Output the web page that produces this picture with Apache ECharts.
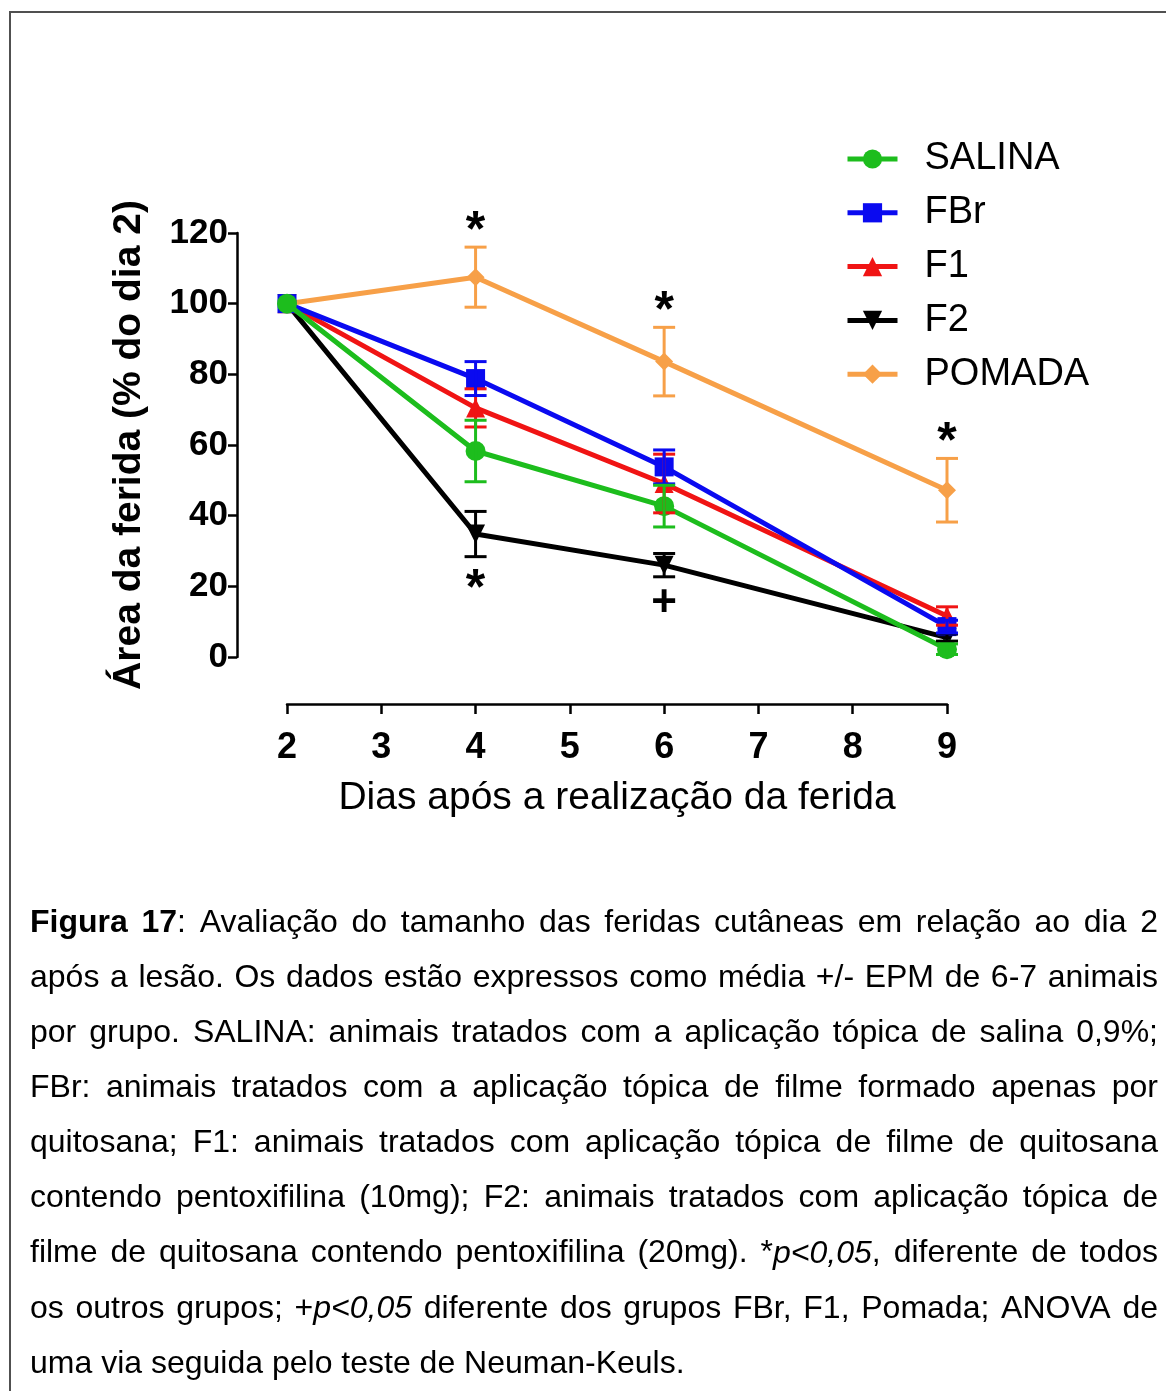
<!DOCTYPE html>
<html>
<head>
<meta charset="utf-8">
<script src="https://cdn.jsdelivr.net/npm/echarts@6.0.0/dist/echarts.min.js"></script>
<style>
  html, body { margin: 0; padding: 0; background: #ffffff; }
  #chart { width: 1166px; height: 1391px; }
</style>
</head>
<body>
<div id="chart"></div>
<script>
// Days after wounding (x positions of the measurements)
const days = [2, 4, 6, 9];
const xTickLabels = [2, 3, 4, 5, 6, 7, 8, 9];
const yTickLabels = [0, 20, 40, 60, 80, 100, 120];

// Wound area, % of day 2 (mean and SEM per group)
const salinaMean = [100, 58.3, 42.7, 2.2];
const salinaErr  = [0, 8.7, 5.9, 1.5];
const fbrMean    = [100, 78.8, 53.8, 8.6];
const fbrErr     = [0, 4.8, 4.8, 1.8];
const f1Mean     = [100, 70.5, 49.1, 11.6];
const f1Err      = [0, 5.4, 8.3, 2.6];
const f2Mean     = [100, 34.8, 26.0, 5.5];
const f2Err      = [0, 6.4, 3.3, 1.0];
const pomadaMean = [100, 107.5, 83.6, 47.2];
const pomadaErr  = [0, 8.5, 9.7, 9.0];

// Significance marks: group, day, side of the error bar (1 above, -1 below), symbol
const sigGroup  = ['POMADA', 'POMADA', 'POMADA', 'F2', 'F2'];
const sigDay    = [4, 6, 9, 4, 6];
const sigSide   = [1, 1, 1, -1, -1];
const sigSymbol = ['*', '*', '*', '*', '+'];

const legendOrder = ['SALINA', 'FBr', 'F1', 'F2', 'POMADA'];

// Drawing order: bottom to top
const groups = [
  { name: 'POMADA', mean: pomadaMean, err: pomadaErr, color: '#f7a048', symbol: 'diamond',  size: 18, rotate: 0 },
  { name: 'F2',     mean: f2Mean,     err: f2Err,     color: '#000000', symbol: 'triangle', size: 19, rotate: 180 },
  { name: 'F1',     mean: f1Mean,     err: f1Err,     color: '#f01414', symbol: 'triangle', size: 19, rotate: 0 },
  { name: 'FBr',    mean: fbrMean,    err: fbrErr,    color: '#0a0af0', symbol: 'rect',     size: 19, rotate: 0 },
  { name: 'SALINA', mean: salinaMean, err: salinaErr, color: '#1dbd1d', symbol: 'circle',   size: 20, rotate: 0 }
];

const FONT = '"Liberation Sans", Arial, sans-serif';

const series = [];
groups.forEach(function (g, gi) {
  series.push({
    name: g.name,
    type: 'line',
    data: days.map(function (d, i) { return [d, g.mean[i]]; }),
    symbol: g.symbol,
    symbolSize: g.size,
    symbolRotate: g.rotate,
    showAllSymbol: true,
    lineStyle: { color: g.color, width: 5 },
    itemStyle: { color: g.color, borderWidth: 0 },
    z: 2 + gi,
    animation: false,
    emphasis: { disabled: true }
  });
});

// Error bars (mean +/- SEM) with caps, drawn above all lines
groups.forEach(function (g, gi) {
  series.push({
    name: g.name + ' EPM',
    type: 'custom',
    data: days.map(function (d, i) { return [d, g.mean[i], g.err[i]]; }),
    renderItem: function (params, api) {
      const x = api.value(0), m = api.value(1), e = api.value(2);
      if (!e) return null;
      const top = api.coord([x, m + e]);
      const bot = api.coord([x, m - e]);
      const hw = 11;
      const st = { stroke: g.color, lineWidth: 3, fill: 'none' };
      return {
        type: 'group',
        children: [
          { type: 'line', shape: { x1: top[0], y1: top[1], x2: bot[0], y2: bot[1] }, style: st },
          { type: 'line', shape: { x1: top[0] - hw, y1: top[1], x2: top[0] + hw, y2: top[1] }, style: st },
          { type: 'line', shape: { x1: bot[0] - hw, y1: bot[1], x2: bot[0] + hw, y2: bot[1] }, style: st }
        ]
      };
    },
    z: 10 + gi,
    silent: true,
    animation: false
  });
});

// Significance symbols placed just beyond the error bar caps
series.push({
  name: 'sig',
  type: 'custom',
  data: sigDay.map(function (d, i) {
    const g = groups.find(function (gg) { return gg.name === sigGroup[i]; });
    const k = days.indexOf(d);
    return [d, g.mean[k] + sigSide[i] * g.err[k], sigSide[i], i];
  }),
  renderItem: function (params, api) {
    const p = api.coord([api.value(0), api.value(1)]);
    const side = api.value(2);
    const sym = sigSymbol[api.value(3)];
    let y, size;
    if (sym === '*') {
      size = 50;
      y = side > 0 ? p[1] - 15 : p[1] + 34;
    } else {
      size = 44;
      y = p[1] + 27;
    }
    return {
      type: 'text',
      style: {
        text: sym, x: p[0], y: y,
        align: 'center', verticalAlign: 'middle',
        fontSize: size, fontWeight: 'bold', fontFamily: FONT, fill: '#000'
      }
    };
  },
  z: 30,
  silent: true,
  animation: false
});

// Caption below the chart, justified like the printed figure
const captionLines = [
  [[ 'Figura 17', 'b' ], [ ': Avaliação do tamanho das feridas cutâneas em relação ao dia 2', '' ]],
  [[ 'após a lesão. Os dados estão expressos como média +/- EPM de 6-7 animais', '' ]],
  [[ 'por grupo. SALINA: animais tratados com a aplicação tópica de salina 0,9%;', '' ]],
  [[ 'FBr: animais tratados com a aplicação tópica de filme formado apenas por', '' ]],
  [[ 'quitosana; F1: animais tratados com aplicação tópica de filme de quitosana', '' ]],
  [[ 'contendo pentoxifilina (10mg); F2: animais tratados com aplicação tópica de', '' ]],
  [[ 'filme de quitosana contendo pentoxifilina (20mg). *', '' ], [ 'p<0,05', 'i' ], [ ', diferente de todos', '' ]],
  [[ 'os outros grupos; +', '' ], [ 'p<0,05', 'i' ], [ ' diferente dos grupos FBr, F1, Pomada; ANOVA de', '' ]],
  [[ 'uma via seguida pelo teste de Neuman-Keuls.', '' ]]
];

function buildCaption() {
  const size = 32;
  const left = 30, right = 1158, y0 = 923, lh = 55.1;
  const ctx = document.createElement('canvas').getContext('2d');
  function fontOf(s) {
    return (s.indexOf('i') >= 0 ? 'italic ' : '') + (s.indexOf('b') >= 0 ? 'bold ' : '') + size + 'px ' + FONT;
  }
  function measure(t, s) { ctx.font = fontOf(s); return ctx.measureText(t).width; }
  const els = [];
  captionLines.forEach(function (line, li) {
    // split into words, each word a list of styled pieces
    const words = [];
    let cur = [];
    line.forEach(function (seg) {
      const parts = seg[0].split(' ');
      parts.forEach(function (p, pi) {
        if (pi > 0) { if (cur.length) words.push(cur); cur = []; }
        if (p.length) cur.push([p, seg[1]]);
      });
    });
    if (cur.length) words.push(cur);
    const widths = words.map(function (w) {
      return w.reduce(function (a, pc) { return a + measure(pc[0], pc[1]); }, 0);
    });
    const total = widths.reduce(function (a, b) { return a + b; }, 0);
    const last = li === captionLines.length - 1;
    const gap = last ? measure(' ', '') : (right - left - total) / (words.length - 1);
    let x = left;
    const y = y0 + li * lh;
    words.forEach(function (w, wi) {
      let xx = x;
      w.forEach(function (pc) {
        els.push({
          type: 'text', silent: true,
          style: {
            text: pc[0], x: xx, y: y, align: 'left', verticalAlign: 'middle',
            fontSize: size, fontFamily: FONT,
            fontWeight: pc[1].indexOf('b') >= 0 ? 'bold' : 'normal',
            fontStyle: pc[1].indexOf('i') >= 0 ? 'italic' : 'normal',
            fill: '#000'
          }
        });
        xx += measure(pc[0], pc[1]);
      });
      x += widths[wi] + gap;
    });
  });
  return els;
}

const chart = echarts.init(document.getElementById('chart'), null, { renderer: 'canvas' });

const option = {
  backgroundColor: '#ffffff',
  animation: false,
  grid: { left: 287, right: 219, top: 233, bottom: 734, containLabel: false, outerBoundsMode: 'none' },
  legend: {
    orient: 'vertical',
    left: 845,
    top: 140,
    padding: 0,
    itemWidth: 50,
    itemHeight: 24,
    itemGap: 15.8,
    data: legendOrder,
    selectedMode: false,
    lineStyle: { width: 5 },
    textStyle: { fontSize: 38, fontFamily: FONT, color: '#000', padding: [0, 0, 0, 22] }
  },
  xAxis: {
    type: 'value',
    min: 2, max: 9, interval: 1,
    offset: 47,
    splitLine: { show: false },
    axisLine: { show: true, onZero: false, lineStyle: { color: '#000', width: 2.5 } },
    axisTick: { show: true, length: 10, lineStyle: { color: '#000', width: 2.5 } },
    axisLabel: {
      margin: 26,
      fontSize: 36, fontWeight: 'bold', fontFamily: FONT, color: '#000',
      formatter: function (v) { return xTickLabels.indexOf(v) >= 0 ? String(v) : ''; }
    },
    name: 'Dias após a realização da ferida',
    nameLocation: 'middle',
    nameGap: 75,
    nameTextStyle: { fontSize: 39, fontFamily: FONT, color: '#000' }
  },
  yAxis: {
    type: 'value',
    min: 0, max: 120, interval: 20,
    offset: 50,
    splitLine: { show: false },
    axisLine: { show: true, lineStyle: { color: '#000', width: 2.5 } },
    axisTick: { show: true, length: 9, lineStyle: { color: '#000', width: 2.5 } },
    axisLabel: {
      margin: 9,
      fontSize: 35, fontWeight: 'bold', fontFamily: FONT, color: '#000',
      formatter: function (v) { return yTickLabels.indexOf(v) >= 0 ? String(v) : ''; }
    },
    name: 'Área da ferida (% do dia 2)',
    nameLocation: 'middle',
    nameGap: 88,
    nameTextStyle: { fontSize: 39, fontWeight: 'bold', fontFamily: FONT, color: '#000' }
  },
  series: series,
  graphic: [
    {
      type: 'rect', silent: true, z: 0,
      shape: { x: 10, y: 12, width: 1200, height: 1420 },
      style: { fill: 'none', stroke: '#505050', lineWidth: 2 }
    }
  ].concat(buildCaption())
};

chart.setOption(option);
</script>
</body>
</html>
